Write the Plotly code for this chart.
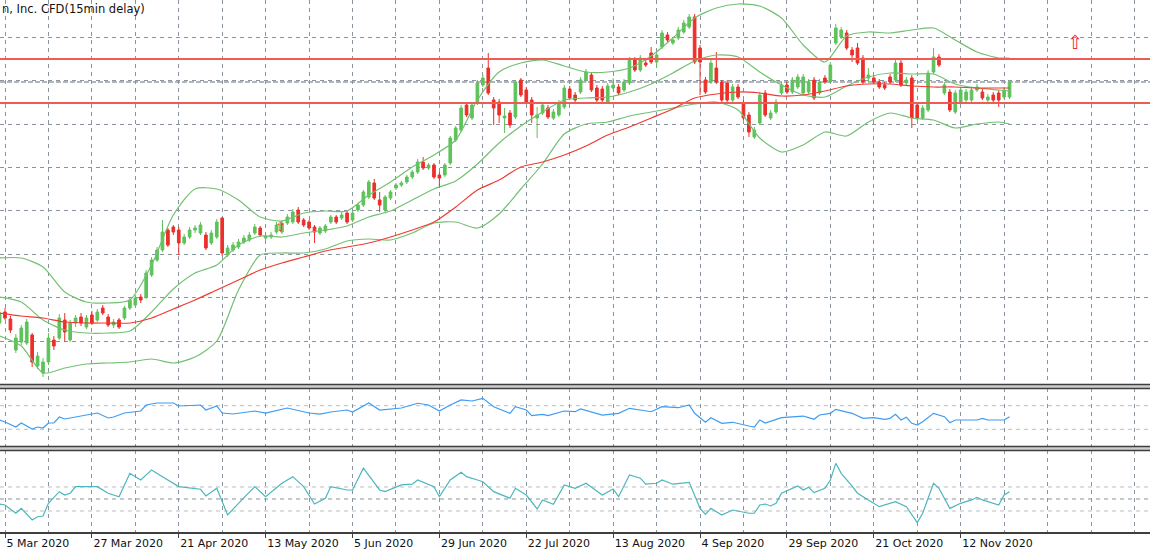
import plotly.graph_objects as go

# ---------------- data ----------------
tick_idx = [1, 17, 33, 49, 65, 81, 97, 113, 129, 145, 161, 177]
tick_text = ["5 Mar 2020", "27 Mar 2020", "21 Apr 2020", "13 May 2020", "5 Jun 2020",
             "29 Jun 2020", "22 Jul 2020", "13 Aug 2020", "4 Sep 2020", "29 Sep 2020",
             "21 Oct 2020", "12 Nov 2020"]

open_ = [1985,2040,2005,1850,1890,1885,1925,1770,1735,1790,
         1900,1910,2000,1900,1985,2015,1965,2025,2000,2060,
         2015,1975,2000,2010,2060,2075,2115,2115,2225,2300,
         2350,2450,2465,2450,2385,2415,2450,2435,2425,2385,
         2415,2510,2325,2350,2365,2390,2400,2435,2460,2410,
         2415,2440,2440,2485,2490,2550,2500,2490,2465,2435,
         2445,2490,2515,2510,2535,2500,2550,2575,2615,2685,
         2600,2550,2610,2660,2675,2690,2715,2740,2790,2760,
         2775,2725,2725,2785,2900,2950,3075,3010,3085,3175,
         3260,3100,3090,3010,3035,3015,3200,3150,3100,3010,
         3035,3060,3010,3025,3065,3155,3125,3140,3200,3225,
         3160,3155,3090,3160,3165,3150,3185,3300,3250,3285,
         3335,3290,3365,3425,3385,3410,3440,3465,3515,3360,
         3200,3190,3260,3190,3185,3100,3165,3085,3025,2915,
         2985,3135,3010,3040,3135,3175,3140,3165,3135,3140,
         3200,3135,3210,3190,3385,3415,3435,3350,3360,3310,
         3210,3210,3190,3175,3215,3200,3285,3185,3210,3075,
         3010,3050,3240,3315,3135,3140,3040,3090,3100,3100,
         3150,3140,3100,3125,3135,3115,3115]
high = [2050,2060,2020,1930,1975,2005,1935,1840,1810,1935,
        1920,2030,2035,2000,2025,2035,2025,2045,2055,2075,
        2030,2005,2010,2070,2115,2125,2130,2250,2315,2365,
        2500,2460,2475,2465,2430,2465,2475,2490,2440,2450,
        2505,2515,2375,2390,2405,2425,2440,2480,2470,2435,
        2440,2490,2500,2530,2555,2565,2510,2500,2475,2470,
        2480,2525,2525,2540,2545,2545,2585,2650,2700,2705,
        2640,2625,2650,2685,2695,2725,2750,2805,2815,2785,
        2785,2740,2785,2920,2970,3075,3090,3090,3200,3225,
        3335,3115,3105,3060,3050,3200,3210,3165,3115,3065,
        3090,3075,3055,3100,3175,3170,3140,3215,3255,3240,
        3175,3170,3185,3210,3180,3205,3315,3315,3325,3300,
        3365,3340,3450,3440,3415,3465,3500,3530,3530,3375,
        3215,3300,3340,3200,3200,3180,3180,3100,3040,2965,
        3140,3150,3050,3105,3190,3190,3215,3230,3230,3205,
        3215,3205,3225,3290,3480,3465,3450,3365,3385,3325,
        3260,3225,3205,3190,3230,3300,3300,3215,3225,3090,
        3075,3250,3360,3330,3190,3155,3150,3165,3155,3165,
        3180,3155,3130,3140,3150,3165,3200]
low = [1970,2000,1935,1835,1875,1875,1765,1755,1715,1775,
       1850,1900,1890,1890,1965,1970,1955,1975,1990,2025,
       1965,1960,1955,2000,2050,2065,2085,2105,2215,2290,
       2340,2365,2425,2325,2375,2405,2435,2425,2350,2375,
       2405,2320,2315,2340,2355,2380,2390,2425,2415,2400,
       2405,2430,2430,2475,2480,2480,2465,2450,2385,2425,
       2435,2480,2480,2500,2480,2490,2540,2565,2605,2600,
       2540,2540,2600,2650,2665,2680,2705,2730,2750,2750,
       2705,2660,2715,2775,2890,2940,3015,3000,3075,3165,
       3125,2975,2985,2935,2960,3005,3115,3080,2985,2910,
       3025,3005,3000,3015,3055,3100,3090,3130,3190,3140,
       3090,3090,3080,3150,3125,3140,3175,3240,3240,3265,
       3280,3260,3355,3390,3375,3400,3430,3455,3280,3125,
       3130,3180,3180,3090,3090,3090,3105,3000,2915,2905,
       2975,3015,3000,3030,3125,3130,3130,3155,3125,3130,
       3100,3125,3180,3180,3375,3405,3350,3290,3275,3180,
       3190,3180,3155,3150,3180,3190,3165,3175,2960,3000,
       3000,3040,3230,3265,3125,3040,3030,3080,3090,3090,
       3140,3100,3090,3090,3065,3105,3105]
close = [2035,2010,1950,1910,1960,1990,1790,1820,1790,1910,
         1870,2010,1940,1985,2010,1985,2010,1985,2040,2035,
         1975,1990,1965,2060,2100,2110,2100,2235,2300,2350,
         2440,2375,2440,2385,2415,2450,2460,2475,2360,2435,
         2490,2335,2360,2375,2390,2410,2425,2465,2425,2420,
         2425,2475,2485,2515,2540,2490,2475,2460,2440,2460,
         2470,2515,2490,2525,2490,2535,2575,2640,2690,2610,
         2575,2615,2640,2675,2685,2715,2740,2790,2760,2775,
         2715,2710,2775,2910,2960,3060,3025,3075,3185,3210,
         3135,3060,3025,3020,2975,3190,3125,3090,3025,3025,
         3075,3015,3040,3085,3160,3110,3100,3200,3240,3150,
         3100,3100,3170,3175,3135,3190,3300,3250,3310,3275,
         3290,3325,3435,3400,3400,3450,3485,3515,3290,3290,
         3140,3285,3190,3100,3100,3165,3115,3010,2940,2950,
         3125,3025,3035,3090,3175,3140,3200,3215,3215,3190,
         3110,3190,3190,3275,3460,3450,3360,3325,3285,3190,
         3225,3190,3165,3160,3190,3285,3175,3200,3010,3010,
         3060,3235,3315,3275,3175,3050,3135,3150,3140,3150,
         3165,3110,3115,3100,3100,3150,3190]
bar_idx = list(range(len(close)))

band_idx = [0,4,8,12,16,20,24,28,32,36,40,44,48,52,56,60,64,68,72,76,80,84,88,92,
            96,100,104,108,112,116,120,124,128,132,136,140,144,148,152,156,160,164,168,
            172,176,180,184,186]
bb_upper = [2310,2310,2265,2140,2090,2085,2100,2275,2525,2655,2655,2600,2515,2495,2535,2545,
            2545,2625,2690,2765,2825,2900,3100,3240,3285,3300,3270,3240,3240,3260,3320,3410,
            3510,3560,3580,3570,3510,3375,3290,3420,3440,3435,3450,3460,3400,3340,3310,3310]
bb_middle = [2115,2090,2000,1950,1935,1935,1945,2040,2155,2235,2275,2375,2420,2415,2435,2450,
             2470,2515,2545,2600,2655,2695,2780,2885,2970,3040,3100,3110,3115,3140,3180,3235,
             3295,3325,3315,3240,3175,3125,3115,3170,3215,3235,3230,3230,3180,3160,3150,3145]
bb_lower = [1920,1870,1735,1760,1780,1785,1790,1805,1785,1815,1895,2150,2325,2335,2335,2355,
            2395,2405,2400,2435,2485,2490,2460,2530,2655,2780,2930,2980,2990,3020,3040,3060,
            3080,3090,3050,2910,2840,2875,2940,2920,2990,3035,3010,3000,2960,2980,2990,2980]
ma_slow = [2035,2020,2010,1990,1985,1985,1985,2010,2055,2100,2150,2200,2250,2285,2315,2345,
           2365,2385,2415,2450,2490,2565,2650,2700,2765,2790,2825,2870,2925,2965,3010,3055,
           3110,3130,3140,3135,3120,3125,3145,3170,3180,3180,3170,3165,3165,3160,3160,3160]

levels_red = [3305, 3085]
arrow_idx = [198, 51.8]
arrow_price = [3390, 2470]
arrow_size = [19, 13]

rsi_idx = [0,1,3,4,6,7,8,9,10,11,12,14,16,18,20,21,23,26,27,29,32,33,37,38,40,41,43,47,49,53,
           57,59,61,64,65,68,70,74,77,79,81,83,85,87,89,91,94,95,97,98,100,101,104,106,107,111,
           114,116,118,120,122,125,127,128,130,131,133,135,138,139,140,141,144,146,148,149,150,
           151,153,154,155,157,159,161,163,164,165,166,167,168,169,170,172,174,175,176,180,181,
           182,185,186]
rsi_val = [45.8,42.4,33.9,40.7,30.5,33.9,32.2,40.7,40.7,50.8,47.5,50.8,54.2,57.6,49.2,50.8,57.6,
           61.0,71.2,74.6,74.6,69.5,71.2,62.7,69.5,57.6,55.9,61.0,57.6,66.1,57.6,55.9,59.3,62.7,
           59.3,74.6,62.7,66.1,74.1,71.2,61.0,71.2,79.7,78.0,82.5,68.3,57.1,68.3,62.7,53.1,55.4,
           53.1,61.0,59.8,64.4,54.2,57.1,65.6,62.7,59.8,68.3,66.6,71.2,57.1,41.9,49.7,40.2,41.9,
           35.6,33.9,45.8,40.7,49.7,51.4,52.5,49.7,46.9,54.2,57.1,63.9,61.5,57.1,48.6,49.7,46.9,
           48.6,55.4,45.8,50.3,40.2,37.3,42.9,57.1,51.4,41.2,45.8,45.8,48.6,45.8,45.8,51.4]
rsi_levels = [30, 70]

osc_idx = [0,1,3,4,6,7,8,9,11,12,13,14,18,20,22,24,26,28,30,33,37,38,40,42,44,47,49,52,54,56,
           58,60,61,64,65,67,70,71,74,76,77,80,81,83,85,86,88,89,91,94,95,97,99,100,102,104,106,
           108,111,113,114,116,118,119,121,122,124,127,129,130,131,133,135,138,139,140,141,142,
           143,144,147,148,149,150,152,153,154,155,157,158,160,162,165,167,169,170,172,173,175,
           177,179,180,181,184,185,186]
osc_val = [-42,-50,-119,-78,-175,-148,-142,-36,61,33,48,103,103,48,19,214,158,242,186,103,81,25,
           89,-133,-36,103,19,131,186,103,-42,6,103,75,75,256,75,61,117,123,158,103,19,158,223,
           186,158,144,61,6,89,33,-83,-8,-44,117,89,131,33,83,19,200,173,123,131,158,123,139,-78,
           -128,-78,-133,-92,-119,-119,-50,-42,-58,-36,48,108,75,98,53,89,158,297,214,108,48,-8,
           -64,-22,-64,-197,-119,131,89,-78,-36,-8,14,-8,-50,33,61]
osc_levels = [-100, 0, 100]

title_text = "n, Inc. CFD(15min delay)"

# ---------------- style ----------------
W, H = 1150, 550
GREEN = "#5ec25a"
RED = "#ec2f2a"
BB = "#72c072"
MA = "#ee3a30"
GRID = "#8a949e"
LEVEL = "#bdbdbd"
DARK = "#3f3f3f"
FONT = "DejaVu Sans"

px_per_bar = 5.43
x0_px = -0.43
x_lo = (0 - x0_px) / px_per_bar
x_hi = (W - x0_px) / px_per_bar


def pdom(top_px, bot_px):
    return [1 - bot_px / H, 1 - top_px / H]


fig = go.Figure()

fig.add_trace(go.Candlestick(
    x=bar_idx, open=open_, high=high, low=low, close=close,
    increasing=dict(line=dict(color=GREEN, width=1), fillcolor=GREEN),
    decreasing=dict(line=dict(color=RED, width=1), fillcolor=RED),
    whiskerwidth=0, xaxis="x", yaxis="y", hoverinfo="skip"))

for series, col in [(bb_upper, BB), (bb_middle, BB), (bb_lower, BB), (ma_slow, MA)]:
    fig.add_trace(go.Scatter(x=band_idx, y=series, mode="lines",
                             line=dict(color=col, width=1.2, shape="spline", smoothing=0.7),
                             xaxis="x", yaxis="y", hoverinfo="skip"))

fig.add_trace(go.Scatter(x=rsi_idx, y=rsi_val, mode="lines",
                         line=dict(color="#3d9cf2", width=1.2),
                         xaxis="x", yaxis="y2", hoverinfo="skip"))
fig.add_trace(go.Scatter(x=osc_idx, y=osc_val, mode="lines",
                         line=dict(color="#4bb6bd", width=1.2),
                         xaxis="x", yaxis="y3", hoverinfo="skip"))

grid_dash = "4px,4px"
shapes = []
for lv in levels_red:
    shapes.append(dict(type="line", xref="paper", yref="y", x0=0, x1=1, y0=lv, y1=lv,
                       line=dict(color="#ef5b55", width=1.8), layer="above"))
shapes.append(dict(type="line", xref="paper", yref="y", x0=0, x1=1, y0=close[-1], y1=close[-1],
                   line=dict(color="#66707a", width=1.2, dash="5px,2px"), layer="below"))
for lv in rsi_levels:
    shapes.append(dict(type="line", xref="paper", yref="y2", x0=0, x1=1, y0=lv, y1=lv,
                       line=dict(color=LEVEL, width=1, dash=grid_dash), layer="below"))
for lv in osc_levels:
    shapes.append(dict(type="line", xref="paper", yref="y3", x0=0, x1=1, y0=lv, y1=lv,
                       line=dict(color=(GRID if lv == 0 else LEVEL), width=1, dash=grid_dash),
                       layer="below"))
# panel separators (double lines)
for top_px in (384.5, 446.5):
    shapes.append(dict(type="rect", xref="paper", yref="paper", x0=-0.01, x1=1.01,
                       y0=1 - (top_px + 4) / H, y1=1 - top_px / H,
                       line=dict(color=DARK, width=1.4), fillcolor="#cfcfcf", layer="above"))

annotations = [dict(text=title_text, xref="paper", yref="paper", x=0, y=1 - 9 / H,
                    xanchor="left", yanchor="middle", showarrow=False,
                    font=dict(family=FONT, size=11.5, color="#111111"))]
for ax_, ay_, s_ in zip(arrow_idx, arrow_price, arrow_size):
    annotations.append(dict(text="\u21e7", xref="x", yref="y", x=ax_, y=ay_, showarrow=False,
                            font=dict(family=FONT, size=s_, color="#f03030"),
                            xanchor="center", yanchor="middle"))

fig.update_layout(
    width=W, height=H, margin=dict(l=0, r=0, t=0, b=0),
    paper_bgcolor="white", plot_bgcolor="white", showlegend=False,
    xaxis=dict(domain=[0, 1], range=[x_lo, x_hi], anchor="y3",
               tickmode="array", tickvals=tick_idx, ticktext=tick_text,
               ticks="outside", ticklen=4, tickwidth=1, tickcolor=DARK,
               ticklabelposition="outside right",
               tickfont=dict(family=FONT, size=11, color="#111111"),
               showgrid=True, gridcolor=GRID, griddash=grid_dash, gridwidth=1,
               minor=dict(tickmode="linear", tick0=1, dtick=8, showgrid=True,
                          gridcolor=GRID, griddash=grid_dash, gridwidth=1, ticks=""),
               showline=True, linecolor=DARK, linewidth=2, zeroline=False,
               rangeslider=dict(visible=False), fixedrange=True),
    yaxis=dict(domain=pdom(0, 384), range=[1680, 3600], anchor="x",
               tickmode="linear", tick0=3413.5, dtick=217,
               showgrid=True, gridcolor=GRID, griddash=grid_dash, gridwidth=1,
               showticklabels=False, ticks="", zeroline=False, showline=False),
    yaxis2=dict(domain=pdom(388, 447), range=[0, 100], anchor="x",
                showgrid=False, showticklabels=False, ticks="", zeroline=False),
    yaxis3=dict(domain=pdom(450, 532), range=[-275, 408], anchor="x",
                showgrid=False, showticklabels=False, ticks="", zeroline=False),
    shapes=shapes, annotations=annotations,
)

fig.write_html("out.html")
